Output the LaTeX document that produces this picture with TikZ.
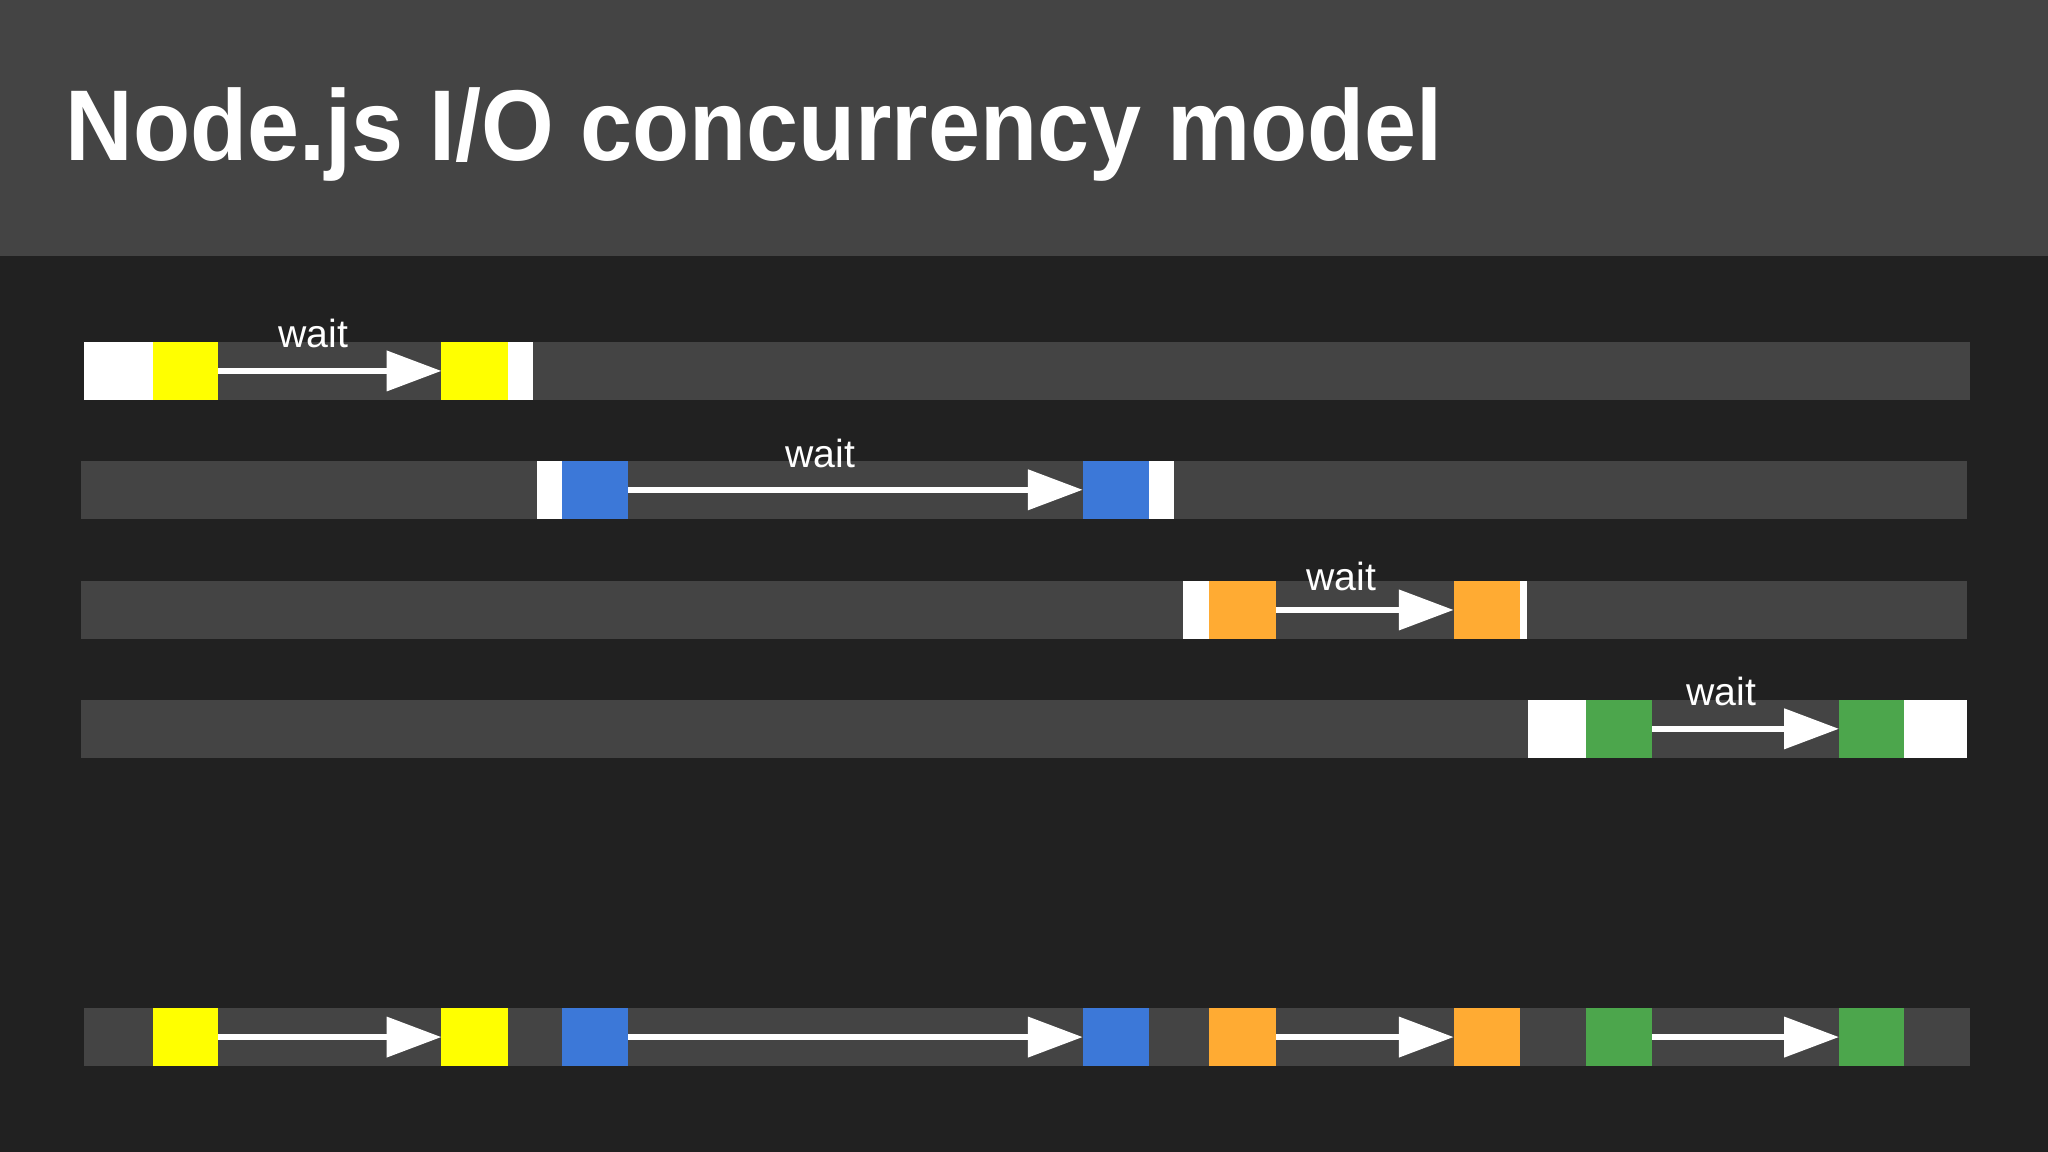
\documentclass[tikz,border=0pt]{standalone}
\usepackage{fontspec}
\setmainfont{Liberation Sans}
\usetikzlibrary{arrows.meta}
\definecolor{hdr}{HTML}{444444}
\definecolor{bg}{HTML}{212121}
\definecolor{lane}{HTML}{444444}
\definecolor{cy}{HTML}{FFFF00}
\definecolor{cb}{HTML}{3C78D8}
\definecolor{co}{HTML}{FFAB33}
\definecolor{cg}{HTML}{4CA64C}
\tikzset{
  blk/.style={anchor=north west,inner sep=0pt,outer sep=0pt,minimum height=44pt,draw=none},
  warrow/.style={draw=white,line width=5pt,-{Triangle[length=42pt,width=30pt]},shorten >=0pt},
  waitlbl/.style={text=white,font=\fontsize{30}{30}\selectfont,anchor=base}
}
\newcommand{\bx}[5]{\node[blk,fill=#2,minimum width=#4pt] (#1) at (#3,#5) {};}
\begin{document}
\begin{tikzpicture}[x=1pt,y=-1pt]
\useasboundingbox (0,0) rectangle (1568,882);
\fill[bg] (0,0) rectangle (1568,882);
\fill[hdr] (0,0) rectangle (1568,196);
\node[anchor=base west,inner sep=0pt,text=white,font=\bfseries\fontsize{77}{77}\selectfont] (title) at (50,123) {\scalebox{0.93}[1]{Node.js I/O concurrency model}};
% lanes
\bx{l1}{lane}{64}{1444}{262}
\bx{l2}{lane}{62}{1444}{353}
\bx{l3}{lane}{62}{1444}{445}
\bx{l4}{lane}{62}{1444}{536}
\bx{l5}{lane}{64}{1444}{772}
% row 1
\bx{w1a}{white}{64}{53}{262}
\bx{y1a}{cy}{117}{50}{262}
\bx{y1b}{cy}{338}{51}{262}
\bx{w1b}{white}{389}{19}{262}
\draw[warrow] (y1a.east) -- (y1b.west);
\node[waitlbl] (t1) at (240,266) {wait};
% row 2
\bx{w2a}{white}{411}{19}{353}
\bx{b2a}{cb}{430}{51}{353}
\bx{b2b}{cb}{829}{51}{353}
\bx{w2b}{white}{880}{19}{353}
\draw[warrow] (b2a.east) -- (b2b.west);
\node[waitlbl] (t2) at (628,358) {wait};
% row 3
\bx{w3a}{white}{906}{20}{445}
\bx{o3a}{co}{926}{51}{445}
\bx{o3b}{co}{1113}{51}{445}
\bx{w3b}{white}{1164}{5}{445}
\draw[warrow] (o3a.east) -- (o3b.west);
\node[waitlbl] (t3) at (1027,452) {wait};
% row 4
\bx{w4a}{white}{1170}{44}{536}
\bx{g4a}{cg}{1214}{51}{536}
\bx{g4b}{cg}{1408}{50}{536}
\bx{w4b}{white}{1458}{48}{536}
\draw[warrow] (g4a.east) -- (g4b.west);
\node[waitlbl] (t4) at (1318,540) {wait};
% bottom
\bx{y5a}{cy}{117}{50}{772}
\bx{y5b}{cy}{338}{51}{772}
\bx{b5a}{cb}{430}{51}{772}
\bx{b5b}{cb}{829}{51}{772}
\bx{o5a}{co}{926}{51}{772}
\bx{o5b}{co}{1113}{51}{772}
\bx{g5a}{cg}{1214}{51}{772}
\bx{g5b}{cg}{1408}{50}{772}
\draw[warrow] (y5a.east) -- (y5b.west);
\draw[warrow] (b5a.east) -- (b5b.west);
\draw[warrow] (o5a.east) -- (o5b.west);
\draw[warrow] (g5a.east) -- (g5b.west);
\end{tikzpicture}
\end{document}
